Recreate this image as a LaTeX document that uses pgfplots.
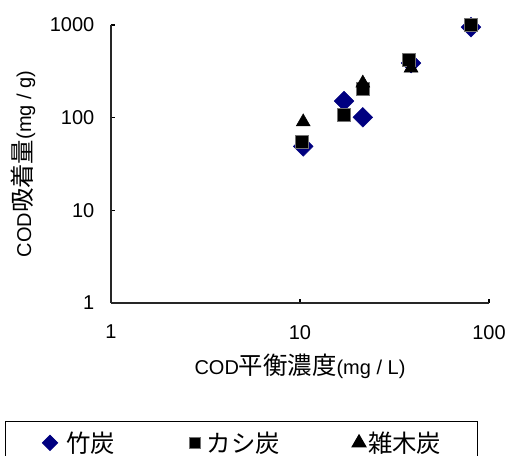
\documentclass[border=0pt]{standalone}
\usepackage{pgfplots}
\pgfplotsset{compat=1.18}
\usepackage{fontspec}
\setmainfont{Liberation Sans}
\newfontfamily\jp[Scale=1.22]{Noto Sans CJK JP}
\definecolor{navy}{RGB}{0,0,128}
\begin{document}
\begin{tikzpicture}
\useasboundingbox (-83.25pt,-114.75pt) rectangle (297.75pt,227.25pt);
\begin{axis}[
  at={(0,0)}, anchor=south west,
  scale only axis, width=283.5pt, height=208.5pt,
  xmode=log, ymode=log,
  xmin=1, xmax=100, ymin=1, ymax=1000,
  axis lines*=left,
  axis line style={line width=1pt, black!85},
  xtick={1,10,100}, xticklabels={1,10,100},
  ytick={1,10,100,1000}, yticklabels={1,10,100,1000},
  xminorticks=false, yminorticks=false,
  tick align=inside, major tick length=3pt,
  tick style={line width=0.8pt, black},
  tick label style={font=\fontsize{15}{18}\selectfont},
  xticklabel style={yshift=-13pt},
  yticklabel style={xshift=-9pt},
  label style={font=\fontsize{15}{18}\selectfont},
  xlabel={COD{\jp 平衡濃度}(mg / L)},
  ylabel={COD{\jp 吸着量}(mg / g)},
  xlabel style={at={(axis description cs:0.5,-0.2266)}, anchor=center},
  ylabel style={at={(axis description cs:-0.2328,0.5)}, anchor=center},
  legend columns=3,
  legend style={at={(axis description cs:-0.2804,-0.4245)}, anchor=north west,
    draw=black, line width=0.75pt, font=\fontsize{15}{18}\selectfont,
    inner xsep=27.4pt, inner ysep=7.5pt,
    nodes={inner sep=0pt},
    /tikz/column 1/.style={column sep=6pt},
    /tikz/column 2/.style={column sep=54pt},
    /tikz/column 3/.style={column sep=3pt},
    /tikz/column 4/.style={column sep=53.25pt},
    /tikz/column 5/.style={column sep=0.75pt}},
  legend image code/.code={\path[draw=none,fill=none] (-6pt,-4pt) rectangle (6pt,4pt); \draw[#1] plot coordinates {(0pt,0pt)};},
]
\addplot[only marks, mark=square*, mark size=5.2pt, mark options={rotate=45, fill=navy, draw=navy},
  legend image post style={mark size=4pt}]
  coordinates {(10.4,49) (17.1,151) (21.5,101) (38.7,388) (80.3,949)};
\addlegendentry{{\jp 竹炭}}
\addplot[only marks, mark=square*, mark size=4.8pt, mark options={fill=black, draw=black!55, line width=0.6pt},
  legend image post style={mark size=4.3pt}]
  coordinates {(10.2,55) (17.1,107) (21.5,203) (37.7,418) (80,997)};
\addlegendentry{{\jp カシ炭}}
\addplot[only marks, mark=triangle*, mark size=6pt, mark options={fill=black, draw=black},
  legend image post style={mark size=6pt}]
  coordinates {(10.4,90) (21.5,236) (38.7,343)};
\addlegendentry{{\jp 雑木炭}}
\end{axis}
\end{tikzpicture}
\end{document}
